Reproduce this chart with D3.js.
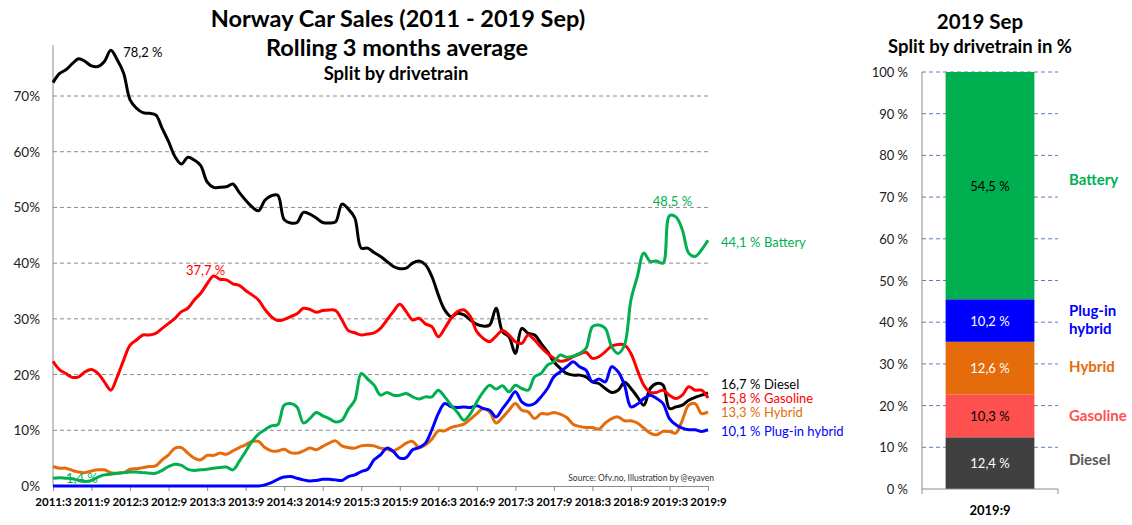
<!DOCTYPE html>
<html>
<head>
<meta charset="utf-8">
<script src="https://cdn.jsdelivr.net/npm/d3@7"></script>
<style>
  body { margin: 0; background: #fff; }
  svg text { font-family: Lato, "Open Sans", sans-serif; }
</style>
</head>
<body>
<script>
// Rolling 3 month share per drivetrain, 2011:3 .. 2019:9 (one value per month)
var diesel = [72.4,74.0,74.7,75.8,76.7,76.2,75.4,75.3,76.2,78.2,76.5,74.1,69.3,67.8,67.0,66.9,66.6,64.2,61.8,59.1,57.8,59.0,58.5,57.5,54.6,53.6,53.6,53.7,54.2,52.7,51.3,50.1,49.4,51.3,52.1,52.2,47.8,47.2,47.3,49.1,48.8,48.1,47.3,47.2,47.4,50.6,49.7,48.1,42.7,42.7,41.9,41.2,40.3,39.4,39.0,39.1,40.0,40.4,39.7,37.6,34.3,31.6,30.4,31.0,30.7,29.8,29.0,28.7,28.9,31.9,27.7,26.8,23.8,28.3,27.4,27.1,25.6,24.1,22.3,21.1,20.2,19.9,19.9,19.6,18.7,18.4,17.5,16.8,17.2,18.6,17.5,16.0,14.5,17.5,18.4,18.1,13.9,14.2,14.5,15.4,15.9,16.3,16.7];
var gasoline = [22.4,20.9,20.2,19.5,19.6,20.5,20.9,20.2,18.7,17.2,19.6,22.6,25.3,26.2,27.1,27.1,27.4,28.3,29.2,30.1,31.3,31.9,33.4,34.6,36.3,37.7,37.1,37.0,36.3,36.0,35.1,34.3,33.4,31.7,30.4,29.7,29.9,30.4,30.9,31.9,31.7,31.2,31.5,31.6,31.5,29.8,27.9,27.5,27.1,27.3,27.5,28.3,29.8,31.3,32.6,31.3,29.8,30.1,29.1,28.6,26.8,28.3,30.1,31.3,31.6,30.4,27.7,26.5,25.9,26.9,27.9,27.1,25.9,25.6,27.1,26.2,24.9,23.8,22.9,22.4,22.6,23.2,23.7,24.0,22.9,23.2,24.1,25.1,25.4,25.3,23.8,20.8,18.1,16.8,16.8,17.2,16.3,15.7,16.3,17.8,17.2,17.2,15.8];
var hybrid = [3.5,3.2,3.2,2.8,2.5,2.4,2.7,2.9,2.9,2.4,2.3,2.4,3.0,3.1,3.3,3.5,3.6,4.7,5.6,6.8,6.9,5.9,5.0,4.7,5.5,5.5,5.9,5.7,6.3,6.9,7.4,8.0,8.0,6.9,6.3,6.3,6.6,6.0,5.9,6.3,6.8,6.5,7.1,7.7,8.1,7.2,6.9,6.8,7.2,7.3,7.2,6.8,6.6,6.3,6.9,7.7,8.0,6.9,7.4,8.4,9.9,9.9,10.5,10.8,11.1,12.0,13.0,13.9,13.3,11.3,12.3,13.6,14.8,13.6,13.3,12.1,13.0,12.9,13.2,12.9,12.3,11.1,10.7,10.5,10.5,10.2,11.3,12.1,12.4,11.7,11.7,11.3,10.4,9.5,9.2,9.8,9.8,9.5,11.8,14.5,14.8,13.0,13.3];
var pluginHybrid = [0,0,0,0,0,0,0,0,0,0,0,0,0,0,0,0,0,0,0,0,0,0,0,0,0,0,0,0,0,0,0,0,0,0.2,0.6,1.2,1.6,1.7,1.4,1.1,0.9,1.0,1.2,1.2,1.1,1.0,1.7,2.0,2.6,3.0,4.7,5.6,6.8,6.2,5.0,5.1,6.5,6.9,7.7,10.1,13.0,14.8,14.2,14.1,14.2,14.1,14.4,13.9,13.6,12.4,13.9,15.4,16.9,15.1,14.5,14.8,16.0,17.5,19.6,20.5,21.4,22.3,21.4,20.8,18.7,19.2,18.7,21.4,20.5,18.1,14.2,14.7,15.7,16.3,15.7,14.8,12.1,11.0,10.4,10.1,10.1,9.8,10.1];
var battery = [1.4,1.5,1.4,1.3,1.0,0.8,1.0,1.6,2.0,2.1,2.3,2.4,2.5,2.5,2.4,2.3,2.3,2.8,3.5,3.9,3.7,3.0,2.8,2.9,3.0,3.2,3.3,3.4,2.9,4.4,6.2,8.0,9.3,10.1,10.8,11.0,14.5,14.8,14.2,11.3,12.1,13.2,12.6,12.1,11.5,11.8,13.8,15.4,20.2,19.2,18.1,16.3,16.8,16.3,16.3,16.6,16.0,15.6,16.0,16.0,17.2,16.0,14.5,13.2,11.8,13.0,15.1,16.9,18.1,17.4,18.0,16.9,18.1,17.5,17.2,19.6,20.2,21.7,22.3,23.5,23.1,23.3,23.8,24.7,28.6,28.9,28.3,25.0,23.8,25.3,33.4,37.6,41.8,40.3,40.4,40.0,48.5,48.3,46.0,41.8,41.2,42.4,44.1];

var tickLabels = ["2011:3","2011:9","2012:3","2012:9","2013:3","2013:9","2014:3","2014:9","2015:3","2015:9","2016:3","2016:9","2017:3","2017:9","2018:3","2018:9","2019:3","2019:9"];

// 2019 Sep split (stacked bar)
var splitKeys = ["Diesel", "Gasoline", "Hybrid", "Plug-in hybrid", "Battery"];
var splitValues = [12.4, 10.3, 12.6, 10.2, 54.5];
var splitMonth = "2019:9";

var width = 1132, height = 525;
var svg = d3.select("body").append("svg").attr("width", width).attr("height", height);

var series = [
  { name: "Diesel", values: diesel, color: "#000000" },
  { name: "Gasoline", values: gasoline, color: "#ff0000" },
  { name: "Hybrid", values: hybrid, color: "#e46c0a" },
  { name: "Plug-in hybrid", values: pluginHybrid, color: "#0000ff" },
  { name: "Battery", values: battery, color: "#00b050" }
];

// ---------- left chart ----------
var x = d3.scaleLinear().domain([0, diesel.length - 1]).range([53, 708]);
var y = d3.scaleLinear().domain([0, 70]).range([486, 96]);

// titles
svg.append("text").attr("x", 398).attr("y", 18).attr("text-anchor", "middle").attr("dominant-baseline", "central")
  .style("font-size", "23.5px").style("font-weight", "bold").text("Norway Car Sales (2011 - 2019 Sep)");
svg.append("text").attr("x", 397).attr("y", 47).attr("text-anchor", "middle").attr("dominant-baseline", "central")
  .style("font-size", "23.5px").style("font-weight", "bold").text("Rolling 3 months average");
svg.append("text").attr("x", 396).attr("y", 73).attr("text-anchor", "middle").attr("dominant-baseline", "central")
  .style("font-size", "18.5px").style("font-weight", "bold").text("Split by drivetrain");

// grid
svg.selectAll(".grid").data(d3.range(10, 80, 10)).enter().append("line")
  .attr("x1", 53).attr("x2", 708)
  .attr("y1", function(d) { return y(d); }).attr("y2", function(d) { return y(d); })
  .style("stroke", "#8c8c8c").style("stroke-dasharray", "4,3");

// y axis
svg.append("line").attr("x1", 53).attr("x2", 53).attr("y1", 45).attr("y2", y(0)).style("stroke", "#8c8c8c");
svg.selectAll(".ylab").data(d3.range(0, 80, 10)).enter().append("text")
  .attr("x", 40).attr("y", function(d) { return y(d); })
  .attr("text-anchor", "end").attr("dominant-baseline", "central")
  .style("font-size", "13.5px").style("fill", "#222")
  .text(function(d) { return d + "%"; });

// x axis
var xAxis = d3.axisBottom(x).tickValues(d3.range(0, diesel.length, 6))
  .tickFormat(function(d, i) { return tickLabels[i]; })
  .tickSize(5).tickSizeOuter(0).tickPadding(7);
var gx = svg.append("g").attr("transform", "translate(0," + y(0) + ")").call(xAxis);
gx.select(".domain").style("stroke", "#8c8c8c");
gx.selectAll(".tick line").style("stroke", "#8c8c8c");
gx.selectAll(".tick text").style("font-size", "11.5px").style("font-weight", "bold").style("fill", "#000")
  .style("font-family", "Lato, sans-serif");

// lines
var line = d3.line()
  .x(function(d, i) { return x(i); })
  .y(function(d) { return y(d); })
  .curve(d3.curveCatmullRom.alpha(0.5));

svg.selectAll(".series").data(series).enter().append("path")
  .attr("d", function(d) { return line(d.values); })
  .style("fill", "none")
  .style("stroke", function(d) { return d.color; })
  .style("stroke-width", 3)
  .style("stroke-linejoin", "round");

// peak labels
var peaks = [
  { s: diesel, i: 9, dx: 32, dy: 2, color: "#000" },
  { s: gasoline, i: 25, dx: -8, dy: -6, color: "#ff0000" },
  { s: battery, i: 96, dx: 3, dy: -15, color: "#00b050" },
  { s: battery, i: 4.5, v: 1.4, dx: 0, dy: 0, color: "#00b050" }
];
svg.selectAll(".peak").data(peaks).enter().append("text")
  .attr("x", function(d) { return x(d.i) + d.dx; })
  .attr("y", function(d) { return y(d.v !== undefined ? d.v : d.s[d.i]) + d.dy; })
  .attr("text-anchor", "middle").attr("dominant-baseline", "central")
  .style("font-size", "13px").style("fill", function(d) { return d.color; })
  .text(function(d) { return (d.v !== undefined ? d.v : d.s[d.i]).toFixed(1).replace(".", ",") + " %"; });

// end labels
var endY = { "Battery": 241.5, "Diesel": 384, "Gasoline": 398, "Hybrid": 412, "Plug-in hybrid": 431 };
var ends = svg.selectAll(".endlab").data(series).enter().append("text")
  .attr("x", 721).attr("y", function(d) { return endY[d.name]; })
  .attr("dominant-baseline", "central")
  .style("font-size", "13px").style("fill", function(d) { return d.color; });
ends.append("tspan").text(function(d) { return d.values[d.values.length - 1].toFixed(1).replace(".", ",") + " %"; });
ends.append("tspan").attr("x", 764).text(function(d) { return d.name; });

svg.append("text").attr("x", 714).attr("y", 478).attr("text-anchor", "end").attr("dominant-baseline", "central")
  .style("font-size", "8.5px").style("fill", "#333").text("Source: Ofv.no, Illustration by @eyaven");

// ---------- right chart ----------
var y2 = d3.scaleLinear().domain([0, 100]).range([489, 72]);
var x2 = d3.scaleBand().domain([splitMonth]).range([922, 1058]).paddingInner(0).paddingOuter(0.266);
var splitColors = { "Diesel": "#404040", "Gasoline": "#ff5050", "Hybrid": "#e46c0a", "Plug-in hybrid": "#0000ff", "Battery": "#00b050" };
var labelColors = { "Diesel": "#595959", "Gasoline": "#ff5050", "Hybrid": "#e46c0a", "Plug-in hybrid": "#0000ff", "Battery": "#00b050" };
var insideColors = { "Diesel": "#fff", "Gasoline": "#000", "Hybrid": "#fff", "Plug-in hybrid": "#fff", "Battery": "#000" };

svg.append("text").attr("x", 980).attr("y", 21).attr("text-anchor", "middle").attr("dominant-baseline", "central")
  .style("font-size", "20.5px").style("font-weight", "bold").text("2019 Sep");
svg.append("text").attr("x", 980).attr("y", 46).attr("text-anchor", "middle").attr("dominant-baseline", "central")
  .style("font-size", "18.5px").style("font-weight", "bold").text("Split by drivetrain in %");

svg.selectAll(".grid2").data(d3.range(10, 110, 10)).enter().append("line")
  .attr("x1", 922).attr("x2", 1058)
  .attr("y1", function(d) { return y2(d); }).attr("y2", function(d) { return y2(d); })
  .style("stroke", "#5a7db4").style("stroke-dasharray", "4,3");

svg.selectAll(".ylab2").data(d3.range(0, 110, 10)).enter().append("text")
  .attr("x", 908).attr("y", function(d) { return y2(d); })
  .attr("text-anchor", "end").attr("dominant-baseline", "central")
  .style("font-size", "13px").style("fill", "#222")
  .text(function(d) { return d + " %"; });

var row = {};
splitKeys.forEach(function(k, i) { row[k] = splitValues[i]; });
var stacked = d3.stack().keys(splitKeys)([row]);

svg.selectAll(".seg").data(stacked).enter().append("rect")
  .attr("x", x2(splitMonth)).attr("width", x2.bandwidth())
  .attr("y", function(d) { return y2(d[0][1]); })
  .attr("height", function(d) { return y2(d[0][0]) - y2(d[0][1]); })
  .style("fill", function(d) { return splitColors[d.key]; });

svg.selectAll(".seglab").data(stacked).enter().append("text")
  .attr("x", x2(splitMonth) + x2.bandwidth() / 2)
  .attr("y", function(d) { return y2((d[0][0] + d[0][1]) / 2); })
  .attr("text-anchor", "middle").attr("dominant-baseline", "central")
  .style("font-size", "13px").style("fill", function(d) { return insideColors[d.key]; })
  .text(function(d) { return row[d.key].toFixed(1).replace(".", ",") + " %"; });

// axes of right chart
svg.append("line").attr("x1", 922).attr("x2", 922).attr("y1", y2(100)).attr("y2", y2(0)).style("stroke", "#8c8c8c");
svg.append("path").attr("d", "M922," + (y2(0) + 5) + "V" + y2(0) + "H1058V" + (y2(0) + 5))
  .style("fill", "none").style("stroke", "#8c8c8c");
svg.append("text").attr("x", x2(splitMonth) + x2.bandwidth() / 2).attr("y", 510)
  .attr("text-anchor", "middle").attr("dominant-baseline", "central")
  .style("font-size", "13px").style("font-weight", "bold").text(splitMonth);

// category labels right of bar
var sideY = { "Battery": [179], "Plug-in hybrid": [310, 328], "Hybrid": [366], "Gasoline": [415], "Diesel": [459] };
var sideText = { "Battery": ["Battery"], "Plug-in hybrid": ["Plug-in", "hybrid"], "Hybrid": ["Hybrid"], "Gasoline": ["Gasoline"], "Diesel": ["Diesel"] };
splitKeys.forEach(function(k) {
  sideText[k].forEach(function(t, j) {
    svg.append("text").attr("x", 1069).attr("y", sideY[k][j]).attr("dominant-baseline", "central")
      .style("font-size", "15px").style("font-weight", "bold").style("fill", labelColors[k]).text(t);
  });
});
</script>
</body>
</html>
